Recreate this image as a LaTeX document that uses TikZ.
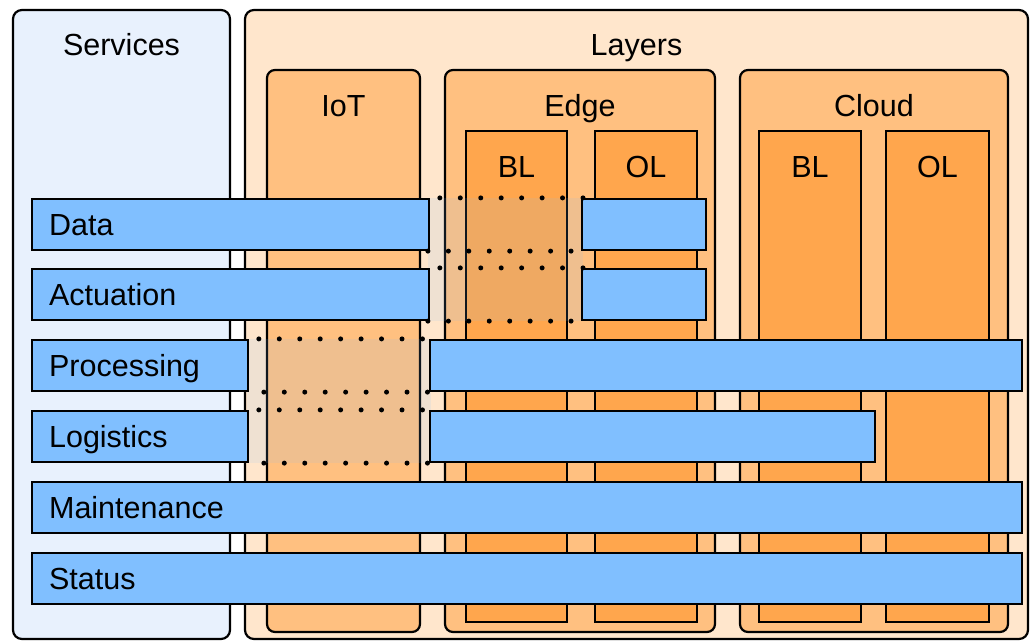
\documentclass[tikz,border=0pt]{standalone}
\usepackage{fontspec}
\setmainfont{Liberation Sans}
\usetikzlibrary{fit}
\definecolor{svcbg}{HTML}{E8F1FD}
\definecolor{laybg}{HTML}{FFE6CC}
\definecolor{tierbg}{HTML}{FFC080}
\definecolor{subbg}{HTML}{FFA64D}
\definecolor{barbg}{HTML}{80BFFF}
\tikzset{
  panel/.style={draw=black, rounded corners=9pt, inner sep=0pt},
  svcpanel/.style={panel, fill=svcbg},
  laypanel/.style={panel, fill=laybg},
  tier/.style={panel, fill=tierbg, rounded corners=8pt},
  subbox/.style={draw=black, fill=subbg, inner sep=0pt},
  bar/.style={draw=black, fill=barbg, inner sep=0pt},
  ghost/.style={inner sep=0pt},
  tint/.style={inner sep=0pt, fill=barbg, fill opacity=0.12},
  dots/.style={line width=5pt, line cap=round, dash pattern=on 0pt off 20.45pt},
  ttl/.style={font=\fontsize{30.5}{36}\selectfont, anchor=base, inner sep=0pt},
  lbl/.style={ttl, anchor=base west},
}
\begin{document}
\begin{tikzpicture}[x=1pt, y=-1pt, line width=2.2pt]
\useasboundingbox (0,0) rectangle (1032,642);
% outer panels
\node[svcpanel, fit={(13,10) (230,639)}] (services) {};
\node[laypanel, fit={(245,10) (1028,639)}] (layers) {};
\node[ttl] (tservices) at (121.5,56) {Services};
\node[ttl] (tlayers) at (636.5,56) {Layers};
% tiers
\node[tier, fit={(267,70) (420,632)}] (iot) {};
\node[tier, fit={(445,70) (715,632)}] (edge) {};
\node[tier, fit={(740,70) (1008,632)}] (cloud) {};
\node[ttl] (tiot) at (343.5,116) {IoT};
\node[ttl] (tedge) at (580,116) {Edge};
\node[ttl] (tcloud) at (874,116) {Cloud};
% sub layers
\node[subbox, fit={(466,131) (567,622)}] (ebl) {};
\node[subbox, fit={(595,131) (697,622)}] (eol) {};
\node[subbox, fit={(759,131) (861,622)}] (cbl) {};
\node[subbox, fit={(886,131) (989,622)}] (col) {};
\node[ttl] (tebl) at (516.5,177) {BL};
\node[ttl] (teol) at (646,177) {OL};
\node[ttl] (tcbl) at (810,177) {BL};
\node[ttl] (tcol) at (937.5,177) {OL};
% ghost (bypassed) segments
\node[ghost, fit={(429,199) (582,250)}] (gdata) {};
\node[ghost, fit={(429,269) (582,320)}] (gact) {};
\node[ghost, fit={(248,340) (430,391)}] (gproc) {};
\node[ghost, fit={(248,411) (430,462)}] (glog) {};
\node[tint, fit=(gdata) (gact)] (tint1) {};
\node[tint, fit=(gproc) (glog)] (tint2) {};
% service bars
\node[bar, fit={(32,199) (429,250)}] (data1) {};
\node[bar, fit={(582,199) (706,250)}] (data2) {};
\node[bar, fit={(32,269) (429,320)}] (act1) {};
\node[bar, fit={(582,269) (706,320)}] (act2) {};
\node[bar, fit={(32,340) (248,391)}] (proc1) {};
\node[bar, fit={(430,340) (1022,391)}] (proc2) {};
\node[bar, fit={(32,411) (248,462)}] (log1) {};
\node[bar, fit={(430,411) (875,462)}] (log2) {};
\node[bar, fit={(32,482) (1022,533)}] (maint) {};
\node[bar, fit={(32,553) (1022,604)}] (status) {};
\node[lbl] (ldata) at (48,235.5) {Data};
\node[lbl] (lact) at (48,305.5) {Actuation};
\node[lbl] (lproc) at (48,376.5) {Processing};
\node[lbl] (llog) at (48,447.5) {Logistics};
\node[lbl] (lmaint) at (48,518.5) {Maintenance};
\node[lbl] (lstatus) at (48,589.5) {Status};
% dotted edges of bypassed segments
\draw[dots, dash phase=8.5pt] (gdata.north west) -- (gdata.north east);
\draw[dots] (gdata.south west) -- (gdata.south east);
\draw[dots, dash phase=8.5pt] (gact.north west) -- (gact.north east);
\draw[dots] (gact.south west) -- (gact.south east);
\draw[dots, dash phase=8.5pt] (gproc.north west) -- (gproc.north east);
\draw[dots, dash phase=3.5pt] (gproc.south west) -- (gproc.south east);
\draw[dots, dash phase=8.5pt] (glog.north west) -- (glog.north east);
\draw[dots, dash phase=3.5pt] (glog.south west) -- (glog.south east);
\end{tikzpicture}
\end{document}
